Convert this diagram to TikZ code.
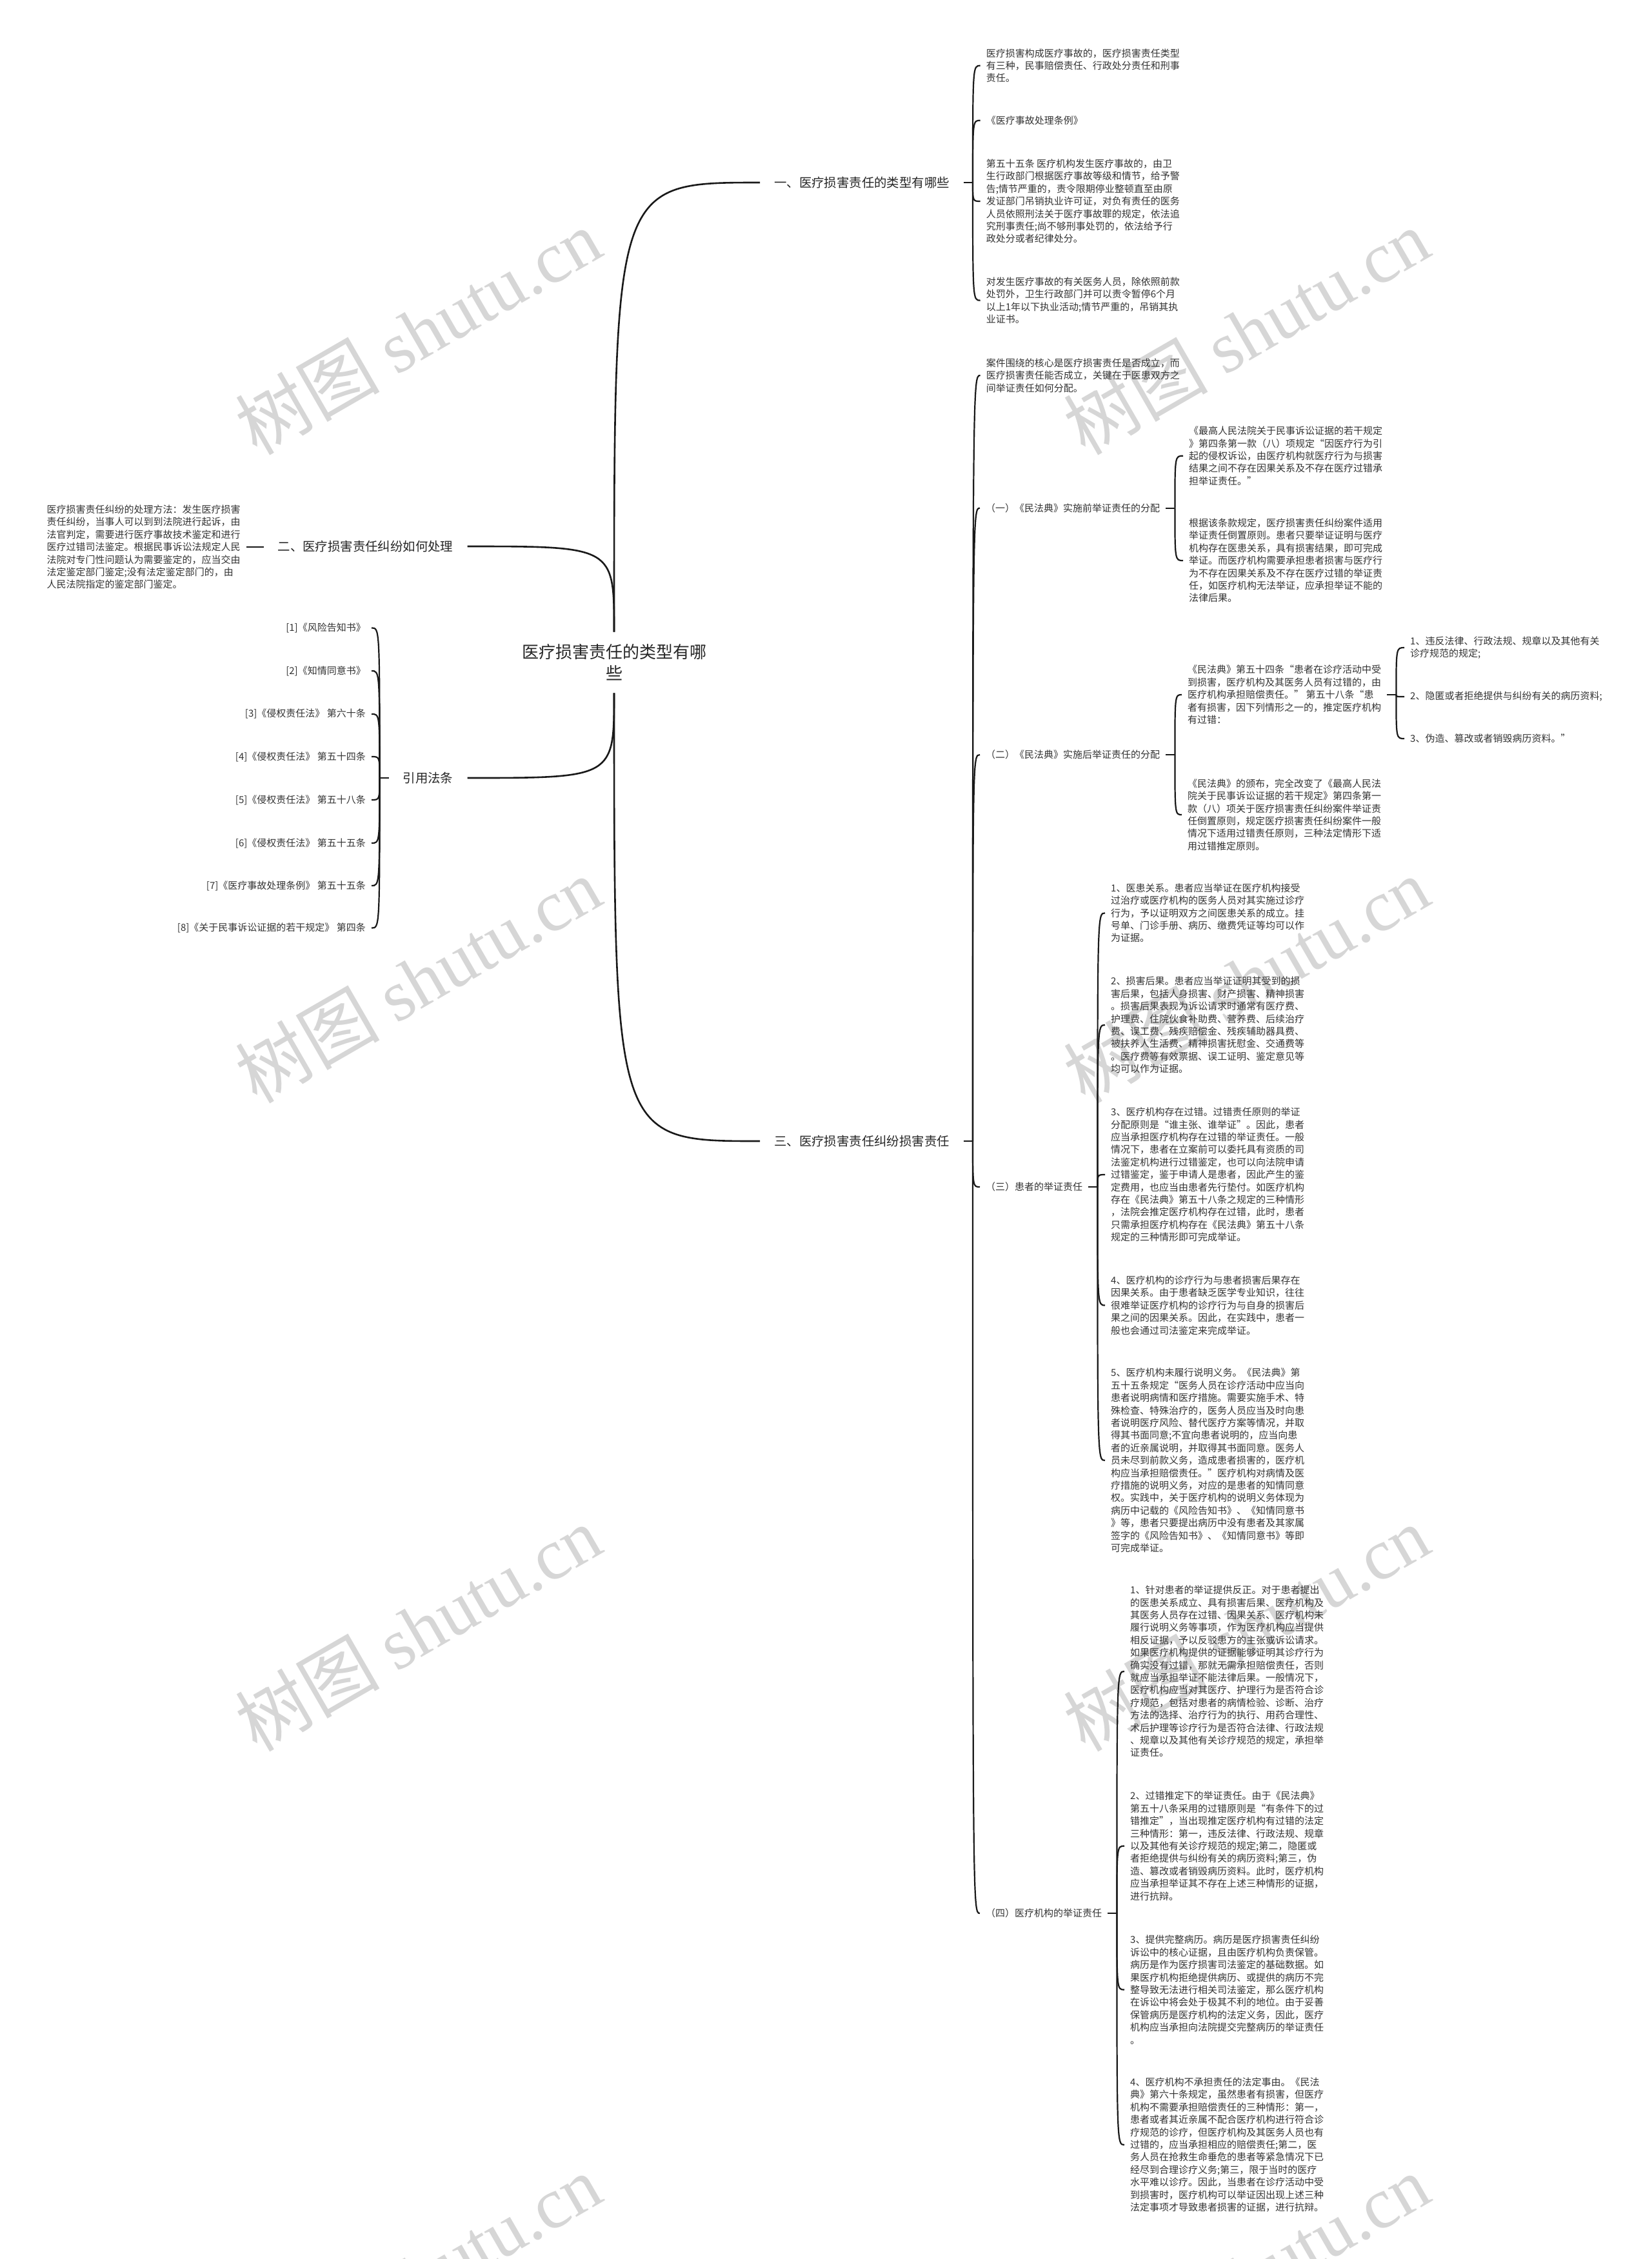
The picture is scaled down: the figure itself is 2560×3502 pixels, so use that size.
\documentclass[tikz,border=0pt]{standalone}
\usepackage{fontspec}
\setmainfont{Noto Sans CJK SC}
\newfontfamily\wmfont{Liberation Serif}
\begin{document}
\begin{tikzpicture}[x=1pt,y=-1pt,
  trunk/.style={line width=2.6pt,black!90},
  twig/.style={line width=2.2pt,black!90},
  rootnode/.style={font=\fontsize{26}{33}\selectfont,align=center,inner xsep=4pt,inner ysep=19pt,text=black!85},
  topic/.style={font=\fontsize{19.4}{24}\selectfont,inner xsep=22pt,inner ysep=3pt,text=black!85},
  leaf/.style={font=\fontsize{15}{19.4}\selectfont,align=left,inner xsep=9pt,inner ysep=2pt,anchor=west,text=black!80},
  refitem/.style={leaf,align=right,anchor=east},
  wmark/.style={font=\fontsize{112}{112}\selectfont,text=black!16,rotate=30}]
  \path[use as bounding box,fill=white] (0,0) rectangle (2560,3502);
  \foreach \wx in {648,1932}
    \foreach \wy in {514,1519,2524,3530}
      \node[wmark] (wm-\wx-\wy) at (\wx,\wy) {树图 {\wmfont shutu.cn}};

  \node[rootnode] (root) at (952,1027) {医疗损害责任的类型有哪\\些};
  \node[topic,anchor=west] (s1) at (1178,283) {一、医疗损害责任的类型有哪些};
  \node[topic,anchor=east] (s2) at (724.5,847) {二、医疗损害责任纠纷如何处理};
  \node[topic,anchor=west] (s3) at (1178,1769) {三、医疗损害责任纠纷损害责任};
  \node[topic,anchor=east] (s4) at (724.5,1206) {引用法条};

  \node[leaf] (a1) at (1519.6,101.7) {医疗损害构成医疗事故的，医疗损害责任类型\\有三种，民事赔偿责任、行政处分责任和刑事\\责任。};
  \node[leaf] (a2) at (1519.6,186.7) {《医疗事故处理条例》};
  \node[leaf] (a3) at (1519.6,312) {第五十五条 医疗机构发生医疗事故的，由卫\\生行政部门根据医疗事故等级和情节，给予警\\告;情节严重的，责令限期停业整顿直至由原\\发证部门吊销执业许可证，对负有责任的医务\\人员依照刑法关于医疗事故罪的规定，依法追\\究刑事责任;尚不够刑事处罚的，依法给予行\\政处分或者纪律处分。};
  \node[leaf] (a4) at (1519.6,465.7) {对发生医疗事故的有关医务人员，除依照前款\\处罚外，卫生行政部门并可以责令暂停6个月\\以上1年以下执业活动;情节严重的，吊销其执\\业证书。};

  \node[leaf] (l1) at (63.5,848) {医疗损害责任纠纷的处理方法：发生医疗损害\\责任纠纷，当事人可以到到法院进行起诉，由\\法官判定，需要进行医疗事故技术鉴定和进行\\医疗过错司法鉴定。根据民事诉讼法规定人民\\法院对专门性问题认为需要鉴定的，应当交由\\法定鉴定部门鉴定;没有法定鉴定部门的，由\\人民法院指定的鉴定部门鉴定。};

  \node[refitem] (r1) at (576,973.4) {[1]《风险告知书》};
  \node[refitem] (r2) at (576,1040) {[2]《知情同意书》};
  \node[refitem] (r3) at (576,1106.9) {[3]《侵权责任法》 第六十条};
  \node[refitem] (r4) at (576,1173) {[4]《侵权责任法》 第五十四条};
  \node[refitem] (r5) at (576,1240) {[5]《侵权责任法》 第五十八条};
  \node[refitem] (r6) at (576,1307) {[6]《侵权责任法》 第五十五条};
  \node[refitem] (r7) at (576,1373) {[7]《医疗事故处理条例》 第五十五条};
  \node[refitem] (r8) at (576,1438.6) {[8]《关于民事诉讼证据的若干规定》 第四条};

  \node[leaf] (c0) at (1519.6,582) {案件围绕的核心是医疗损害责任是否成立，而\\医疗损害责任能否成立，关键在于医患双方之\\间举证责任如何分配。};
  \node[leaf] (p1) at (1519,787.7) {（一）《民法典》实施前举证责任的分配};
  \node[leaf] (p2) at (1519,1170) {（二）《民法典》实施后举证责任的分配};
  \node[leaf] (p3) at (1519,1840) {（三）患者的举证责任};
  \node[leaf] (p4) at (1519,2966) {（四）医疗机构的举证责任};

  \node[leaf] (d1) at (1834,706.7) {《最高人民法院关于民事诉讼证据的若干规定\\》第四条第一款（八）项规定“因医疗行为引\\起的侵权诉讼，由医疗机构就医疗行为与损害\\结果之间不存在因果关系及不存在医疗过错承\\担举证责任。”};
  \node[leaf] (d2) at (1834,869) {根据该条款规定，医疗损害责任纠纷案件适用\\举证责任倒置原则。患者只要举证证明与医疗\\机构存在医患关系，具有损害结果，即可完成\\举证。而医疗机构需要承担患者损害与医疗行\\为不存在因果关系及不存在医疗过错的举证责\\任，如医疗机构无法举证，应承担举证不能的\\法律后果。};

  \node[leaf] (e1) at (1832,1077) {《民法典》第五十四条“患者在诊疗活动中受\\到损害，医疗机构及其医务人员有过错的，由\\医疗机构承担赔偿责任。” 第五十八条“患\\者有损害，因下列情形之一的，推定医疗机构\\有过错：};
  \node[leaf] (e2) at (1832,1263) {《民法典》的颁布，完全改变了《最高人民法\\院关于民事诉讼证据的若干规定》第四条第一\\款（八）项关于医疗损害责任纠纷案件举证责\\任倒置原则，规定医疗损害责任纠纷案件一般\\情况下适用过错责任原则，三种法定情形下适\\用过错推定原则。};

  \node[leaf] (f1) at (2177,1004) {1、违反法律、行政法规、规章以及其他有关\\诊疗规范的规定;};
  \node[leaf] (f2) at (2177,1080) {2、隐匿或者拒绝提供与纠纷有关的病历资料;};
  \node[leaf] (f3) at (2177,1145) {3、伪造、篡改或者销毁病历资料。”};

  \node[leaf] (g1) at (1713,1415.4) {1、医患关系。患者应当举证在医疗机构接受\\过治疗或医疗机构的医务人员对其实施过诊疗\\行为，予以证明双方之间医患关系的成立。挂\\号单、门诊手册、病历、缴费凭证等均可以作\\为证据。};
  \node[leaf] (g2) at (1713,1589) {2、损害后果。患者应当举证证明其受到的损\\害后果，包括人身损害、财产损害、精神损害\\。损害后果表现为诉讼请求时通常有医疗费、\\护理费、住院伙食补助费、营养费、后续治疗\\费、误工费、残疾赔偿金、残疾辅助器具费、\\被扶养人生活费、精神损害抚慰金、交通费等\\。医疗费等有效票据、误工证明、鉴定意见等\\均可以作为证据。};
  \node[leaf] (g3) at (1713,1821) {3、医疗机构存在过错。过错责任原则的举证\\分配原则是“谁主张、谁举证”。因此，患者\\应当承担医疗机构存在过错的举证责任。一般\\情况下，患者在立案前可以委托具有资质的司\\法鉴定机构进行过错鉴定，也可以向法院申请\\过错鉴定，鉴于申请人是患者，因此产生的鉴\\定费用，也应当由患者先行垫付。如医疗机构\\存在《民法典》第五十八条之规定的三种情形\\，法院会推定医疗机构存在过错，此时，患者\\只需承担医疗机构存在《民法典》第五十八条\\规定的三种情形即可完成举证。};
  \node[leaf] (g4) at (1713,2023.6) {4、医疗机构的诊疗行为与患者损害后果存在\\因果关系。由于患者缺乏医学专业知识，往往\\很难举证医疗机构的诊疗行为与自身的损害后\\果之间的因果关系。因此，在实践中，患者一\\般也会通过司法鉴定来完成举证。};
  \node[leaf] (g5) at (1713,2264) {5、医疗机构未履行说明义务。《民法典》第\\五十五条规定“医务人员在诊疗活动中应当向\\患者说明病情和医疗措施。需要实施手术、特\\殊检查、特殊治疗的，医务人员应当及时向患\\者说明医疗风险、替代医疗方案等情况，并取\\得其书面同意;不宜向患者说明的，应当向患\\者的近亲属说明，并取得其书面同意。医务人\\员未尽到前款义务，造成患者损害的，医疗机\\构应当承担赔偿责任。”医疗机构对病情及医\\疗措施的说明义务，对应的是患者的知情同意\\权。实践中，关于医疗机构的说明义务体现为\\病历中记载的《风险告知书》、《知情同意书\\》等，患者只要提出病历中没有患者及其家属\\签字的《风险告知书》、《知情同意书》等即\\可完成举证。};

  \node[leaf] (h1) at (1743,2591) {1、针对患者的举证提供反正。对于患者提出\\的医患关系成立、具有损害后果、医疗机构及\\其医务人员存在过错、因果关系、医疗机构未\\履行说明义务等事项，作为医疗机构应当提供\\相反证据，予以反驳患方的主张或诉讼请求。\\如果医疗机构提供的证据能够证明其诊疗行为\\确实没有过错，那就无需承担赔偿责任，否则\\就应当承担举证不能法律后果。一般情况下，\\医疗机构应当对其医疗、护理行为是否符合诊\\疗规范，包括对患者的病情检验、诊断、治疗\\方法的选择、治疗行为的执行、用药合理性、\\术后护理等诊疗行为是否符合法律、行政法规\\、规章以及其他有关诊疗规范的规定，承担举\\证责任。};
  \node[leaf] (h2) at (1743,2861.7) {2、过错推定下的举证责任。由于《民法典》\\第五十八条采用的过错原则是“有条件下的过\\错推定”，当出现推定医疗机构有过错的法定\\三种情形：第一，违反法律、行政法规、规章\\以及其他有关诊疗规范的规定;第二，隐匿或\\者拒绝提供与纠纷有关的病历资料;第三，伪\\造、篡改或者销毁病历资料。此时，医疗机构\\应当承担举证其不存在上述三种情形的证据，\\进行抗辩。};
  \node[leaf] (h3) at (1743,3084.5) {3、提供完整病历。病历是医疗损害责任纠纷\\诉讼中的核心证据，且由医疗机构负责保管。\\病历是作为医疗损害司法鉴定的基础数据。如\\果医疗机构拒绝提供病历、或提供的病历不完\\整导致无法进行相关司法鉴定，那么医疗机构\\在诉讼中将会处于极其不利的地位。由于妥善\\保管病历是医疗机构的法定义务，因此，医疗\\机构应当承担向法院提交完整病历的举证责任\\。};
  \node[leaf] (h4) at (1743,3325) {4、医疗机构不承担责任的法定事由。《民法\\典》第六十条规定，虽然患者有损害，但医疗\\机构不需要承担赔偿责任的三种情形：第一，\\患者或者其近亲属不配合医疗机构进行符合诊\\疗规范的诊疗，但医疗机构及其医务人员也有\\过错的，应当承担相应的赔偿责任;第二，医\\务人员在抢救生命垂危的患者等紧急情况下已\\经尽到合理诊疗义务;第三，限于当时的医疗\\水平难以诊疗。因此，当患者在诊疗活动中受\\到损害时，医疗机构可以举证因出现上述三种\\法定事项才导致患者损害的证据，进行抗辩。};

  \draw[trunk] (root.north) .. controls (root.north |- s1.west) .. (s1.west);
  \draw[trunk] (root.north) .. controls (root.north |- s2.east) .. (s2.east);
  \draw[trunk] (root.south) .. controls (root.south |- s3.west) .. (s3.west);
  \draw[trunk] (root.south) .. controls (root.south |- s4.east) .. (s4.east);

  \draw[twig] (s1.east) -- ++(14,0) coordinate (k1);
  \foreach \c in {a1,a2,a3,a4}
    \draw[twig] (k1) .. controls (k1 |- \c.west) .. (\c.west);
  \draw[twig] (l1.east) -- (l1.east -| s2.west);
  \draw[twig] (s4.west) -- ++(-14,0) coordinate (kR);
  \foreach \c in {r1,r2,r3,r4,r5,r6,r7,r8}
    \draw[twig] (kR) .. controls (kR |- \c.east) .. (\c.east);
  \draw[twig] (s3.east) -- ++(14,0) coordinate (k3);
  \foreach \c in {c0,p1,p2,p3,p4}
    \draw[twig] (k3) .. controls (k3 |- \c.west) .. (\c.west);
  \draw[twig] (p1.east) -- ++(14,0) coordinate (kA);
  \foreach \c in {d1,d2}
    \draw[twig] (kA) .. controls (kA |- \c.west) .. (\c.west);
  \draw[twig] (p2.east) -- ++(14,0) coordinate (kB);
  \foreach \c in {e1,e2}
    \draw[twig] (kB) .. controls (kB |- \c.west) .. (\c.west);
  \draw[twig] (e1.east) -- ++(14,0) coordinate (kC);
  \foreach \c in {f1,f2,f3}
    \draw[twig] (kC) .. controls (kC |- \c.west) .. (\c.west);
  \draw[twig] (p3.east) -- ++(14,0) coordinate (kD);
  \foreach \c in {g1,g2,g3,g4,g5}
    \draw[twig] (kD) .. controls (kD |- \c.west) .. (\c.west);
  \draw[twig] (p4.east) -- ++(14,0) coordinate (kE);
  \foreach \c in {h1,h2,h3,h4}
    \draw[twig] (kE) .. controls (kE |- \c.west) .. (\c.west);
\end{tikzpicture}
\end{document}
